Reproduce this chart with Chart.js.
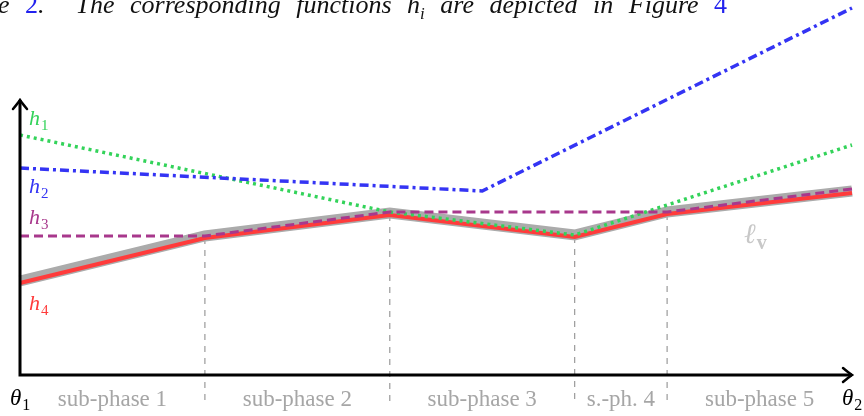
<!DOCTYPE html>
<html>
<head>
<meta charset="utf-8">
<script src="https://cdn.jsdelivr.net/npm/chart.js@4"></script>
<style>
    html, body { margin: 0; padding: 0; background: #fff; overflow: hidden; }
    #wrap { position: relative; width: 864px; height: 416px; }
    #caption {
        position: absolute; left: -2px; top: -10px; white-space: nowrap;
        font-family: "Liberation Serif", serif; font-style: italic; font-size: 26px;
        color: #111; word-spacing: 9px; letter-spacing: 0px;
    }
    #caption .ref { color: #2222ee; font-style: normal; }
    canvas { position: absolute; left: 0; top: 0; }
</style>
</head>
<body>
<div id="wrap">
    <canvas id="chart" width="864" height="416"></canvas>
    <div id="caption">e <span class="ref">2</span>.&nbsp; The corresponding functions h<sub style="font-size:17px">i</sub> are depicted in Figure <span class="ref">4</span></div>
</div>
<script>
// x in sub-phase units (theta1 = 0, theta2 = 4.5), y in arbitrary cost units
const phaseX = [0, 1, 2, 3, 3.5, 4.5];
const h4Values = [92, 137, 160, 138, 161, 182];
const lvValues = [94, 139, 162, 140, 163, 184];

const h3X = [0, 1, 2, 3.5, 4.5];
const h3Values = [139, 139, 163, 163, 186];

const h1X = [0, 2, 3, 4.5];
const h1Values = [240, 163, 140, 230];

const h2X = [0, 2.5, 4.5];
const h2Values = [207, 184, 367];

const boundaryX = [1, 2, 3, 3.5];
const tickValues = [0, 0.5, 1.5, 2.5, 3.25, 4, 4.5];
const tickLabels = ['θ1', 'sub-phase 1', 'sub-phase 2', 'sub-phase 3', 's.-ph. 4', 'sub-phase 5', 'θ2'];

const colors = {
    h1: '#33d35a',
    h2: '#3434f4',
    h3: '#a8388c',
    h4: '#ff3b3b',
    lv: '#ababab'
};

function toPoints(xs, ys) {
    return xs.map((x, i) => ({ x: x, y: ys[i] }));
}

// draw "h" + subscript style labels
function drawSubLabel(ctx, x, y, main, sub, color, size, subBold) {
    ctx.save();
    ctx.fillStyle = color;
    ctx.textBaseline = 'alphabetic';
    ctx.textAlign = 'left';
    ctx.font = 'italic ' + size + 'px "Liberation Serif", serif';
    ctx.fillText(main, x, y);
    const w = ctx.measureText(main).width;
    ctx.font = (subBold ? 'bold ' : '') + Math.round(size * 0.7) + 'px "Liberation Serif", serif';
    ctx.fillText(sub, x + w + 1, y + size * 0.22);
    ctx.restore();
}

const decorations = {
    id: 'decorations',
    beforeDatasetsDraw(chart) {
        const ctx = chart.ctx;
        const xs = chart.scales.x;
        const ys = chart.scales.y;
        const yBase = ys.getPixelForValue(0);

        // sub-phase boundaries
        ctx.save();
        ctx.strokeStyle = '#9a9a9a';
        ctx.lineWidth = 1.2;
        ctx.setLineDash([6, 6]);
        boundaryX.forEach(bx => {
            const i = phaseX.indexOf(bx);
            const px = xs.getPixelForValue(bx);
            ctx.beginPath();
            ctx.moveTo(px, ys.getPixelForValue(h4Values[i]));
            ctx.lineTo(px, yBase + 27);
            ctx.stroke();
        });
        ctx.restore();
    },
    afterDatasetsDraw(chart) {
        const ctx = chart.ctx;
        const xs = chart.scales.x;
        const ys = chart.scales.y;
        const x0 = xs.getPixelForValue(0);
        const yBase = ys.getPixelForValue(0);
        const yTop = ys.getPixelForValue(275);
        const xEnd = xs.getPixelForValue(4.5);

        // axes with arrows
        ctx.save();
        ctx.strokeStyle = '#000';
        ctx.lineWidth = 3;
        ctx.lineCap = 'butt';
        ctx.beginPath();
        ctx.moveTo(x0, yTop);
        ctx.lineTo(x0, yBase);
        ctx.lineTo(xEnd, yBase);
        ctx.stroke();
        ctx.lineWidth = 2.5;
        ctx.lineCap = 'round';
        ctx.beginPath();
        ctx.moveTo(x0 - 7, yTop + 9);
        ctx.quadraticCurveTo(x0 - 2, yTop + 3, x0, yTop);
        ctx.quadraticCurveTo(x0 + 2, yTop + 3, x0 + 7, yTop + 9);
        ctx.moveTo(xEnd - 9, yBase - 7);
        ctx.quadraticCurveTo(xEnd - 3, yBase - 2, xEnd, yBase);
        ctx.quadraticCurveTo(xEnd - 3, yBase + 2, xEnd - 9, yBase + 7);
        ctx.stroke();
        ctx.restore();

        // x labels
        tickValues.forEach((v, i) => {
            const px = xs.getPixelForValue(v);
            const label = tickLabels[i];
            if (label.startsWith('θ')) {
                drawSubLabel(ctx, px - 10, yBase + 30, 'θ', label.slice(1), '#000', 23, false);
            } else {
                ctx.save();
                ctx.fillStyle = '#a6a6a6';
                ctx.font = '23px "Liberation Serif", serif';
                ctx.textAlign = 'center';
                ctx.textBaseline = 'alphabetic';
                ctx.fillText(label, px, yBase + 31);
                ctx.restore();
            }
        });

        // function labels
        drawSubLabel(ctx, x0 + 9, 125, 'h', '1', colors.h1, 22, false);
        drawSubLabel(ctx, x0 + 9, 193, 'h', '2', colors.h2, 22, false);
        drawSubLabel(ctx, x0 + 9, 224, 'h', '3', colors.h3, 22, false);
        drawSubLabel(ctx, x0 + 9, 310, 'h', '4', colors.h4, 22, false);
        drawSubLabel(ctx, 744, 243, 'ℓ', 'v', '#c8c8c8', 28, true);
    }
};

new Chart(document.getElementById('chart'), {
    type: 'line',
    data: {
        datasets: [
            {
                label: 'h2',
                data: toPoints(h2X, h2Values),
                borderColor: colors.h2,
                borderWidth: 3.5,
                borderDash: [9, 4, 3, 4]
            },
            {
                label: 'h3',
                data: toPoints(h3X, h3Values),
                borderColor: colors.h3,
                borderWidth: 3,
                borderDash: [9, 5]
            },
            {
                label: 'h1',
                data: toPoints(h1X, h1Values),
                borderColor: colors.h1,
                borderWidth: 3.5,
                borderDash: [3, 4]
            },
            {
                label: 'h4',
                data: toPoints(phaseX, h4Values),
                borderColor: colors.h4,
                borderWidth: 4
            },
            {
                label: 'lv',
                data: toPoints(phaseX, lvValues),
                borderColor: colors.lv,
                borderWidth: 11
            }
        ]
    },
    options: {
        responsive: false,
        animation: false,
        layout: { padding: { left: 20, right: 12, top: 0, bottom: 41 } },
        elements: {
            point: { radius: 0 },
            line: { tension: 0, fill: false, borderCapStyle: 'butt', borderJoinStyle: 'miter' }
        },
        datasets: { line: { clip: false } },
        plugins: { legend: { display: false }, tooltip: { enabled: false } },
        scales: {
            x: { type: 'linear', min: 0, max: 4.5, display: false },
            y: { type: 'linear', min: 0, max: 375, display: false }
        }
    },
    plugins: [decorations]
});
</script>
</body>
</html>
